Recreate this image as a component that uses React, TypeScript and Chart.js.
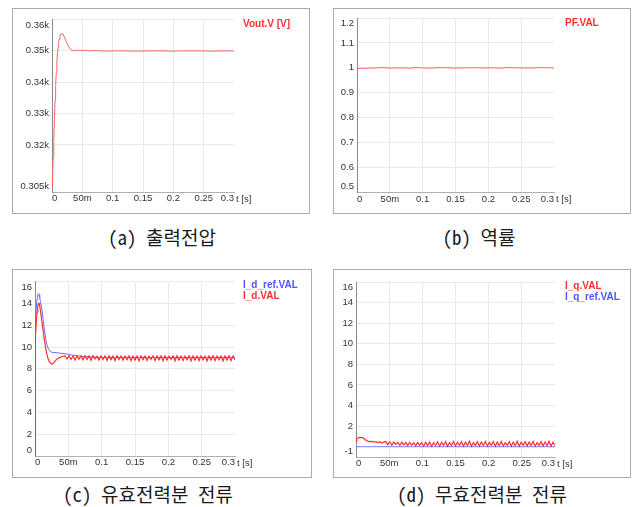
import React, { useEffect, useRef } from 'react';
import { Chart, registerables } from 'chart.js';

Chart.register(...registerables);

const FONT = '"Liberation Sans", Arial, Helvetica, sans-serif';

// ---------- shared time axis ----------
const timeTicks = [0, 0.05, 0.1, 0.15, 0.2, 0.25, 0.3];
const timeTickLabels = ['0', '50m', '0.1', '0.15', '0.2', '0.25', '0.3'];

// ---------- (a) output voltage ----------
const voutTime = [
  0, 0.001, 0.002, 0.003, 0.004, 0.005, 0.006, 0.007, 0.008, 0.009, 0.010,
  0.011, 0.012, 0.013, 0.014, 0.015, 0.016, 0.017, 0.018, 0.020, 0.022, 0.024,
  0.026, 0.028, 0.030, 0.033, 0.036, 0.040, 0.045, 0.050, 0.055, 0.060, 0.070,
  0.080, 0.090, 0.100, 0.120, 0.140, 0.160, 0.180, 0.200, 0.220, 0.240, 0.260,
  0.280, 0.300,
];
const voutValues = [
  306.5, 310, 316, 322, 328, 334, 339, 343, 346.5, 349, 351,
  352.6, 353.8, 354.6, 355.1, 355.4, 355.5, 355.4, 355.2, 354.6, 353.7, 352.7,
  351.8, 351.1, 350.6, 350.2, 350.0, 350.1, 350.2, 350.1, 350.2, 350.0, 350.1,
  350.0, 349.9, 350.0, 350.0, 349.9, 350.0, 350.0, 349.9, 350.0, 350.0, 349.9,
  350.0, 350.0,
];
const voutTicks = [305, 320, 330, 340, 350, 360];
const voutTickLabels = ['0.305k', '0.32k', '0.33k', '0.34k', '0.35k', '0.36k'];

// ---------- (b) power factor ----------
const pfTime = [
  0, 0.01, 0.02, 0.03, 0.04, 0.05, 0.06, 0.07, 0.08, 0.09, 0.10, 0.11, 0.12,
  0.13, 0.14, 0.15, 0.16, 0.17, 0.18, 0.19, 0.20, 0.21, 0.22, 0.23, 0.24, 0.25,
  0.26, 0.27, 0.28, 0.29, 0.30,
];
const pfValues = [
  0.998, 0.998, 0.999, 1.0, 1.001, 0.999, 1.0, 1.0, 0.999, 1.001, 1.0, 0.999,
  1.0, 1.001, 1.0, 0.999, 1.0, 1.0, 1.001, 0.999, 1.0, 1.0, 0.999, 1.001, 1.0,
  1.0, 0.999, 1.0, 1.001, 1.0, 1.0,
];
const pfTicks = [0.5, 0.6, 0.7, 0.8, 0.9, 1.0, 1.1, 1.2];
const pfTickLabels = ['0.5', '0.6', '0.7', '0.8', '0.9', '1', '1.1', '1.2'];

// ---------- ripple time base (c, d) ----------
const rippleTime = [
  0.045, 0.048, 0.051, 0.054, 0.057, 0.060, 0.063, 0.066, 0.069, 0.072,
  0.075, 0.078, 0.081, 0.084, 0.087, 0.090, 0.093, 0.096, 0.099, 0.102,
  0.105, 0.108, 0.111, 0.114, 0.117, 0.120, 0.123, 0.126, 0.129, 0.132,
  0.135, 0.138, 0.141, 0.144, 0.147, 0.150, 0.153, 0.156, 0.159, 0.162,
  0.165, 0.168, 0.171, 0.174, 0.177, 0.180, 0.183, 0.186, 0.189, 0.192,
  0.195, 0.198, 0.201, 0.204, 0.207, 0.210, 0.213, 0.216, 0.219, 0.222,
  0.225, 0.228, 0.231, 0.234, 0.237, 0.240, 0.243, 0.246, 0.249, 0.252,
  0.255, 0.258, 0.261, 0.264, 0.267, 0.270, 0.273, 0.276, 0.279, 0.282,
  0.285, 0.288, 0.291, 0.294, 0.297, 0.300,
];

// ---------- (c) active current ----------
const idRefTime = [
  0, 0.0005, 0.001, 0.002, 0.003, 0.004, 0.005, 0.006, 0.007, 0.008, 0.010,
  0.012, 0.014, 0.016, 0.018, 0.020, 0.022, 0.025, 0.030, 0.035, 0.040, 0.045,
  0.050, 0.055, 0.060, 0.065, 0.070, 0.080, 0.100, 0.150, 0.200, 0.250, 0.300,
];
const idRefValues = [
  9.8, 11.5, 12.6, 13.7, 14.4, 14.8, 14.9, 14.8, 14.6, 14.2, 13.6,
  12.6, 11.6, 10.8, 10.2, 9.85, 9.65, 9.52, 9.48, 9.46, 9.42, 9.38,
  9.33, 9.27, 9.22, 9.18, 9.15, 9.1, 9.05, 9.05, 9.05, 9.05, 9.05,
];
const idStartTime = [
  0, 0.0003, 0.001, 0.002, 0.003, 0.004, 0.005, 0.006, 0.007, 0.008, 0.010,
  0.012, 0.014, 0.016, 0.018, 0.020, 0.022, 0.024, 0.026, 0.028, 0.030, 0.033,
  0.036, 0.040, 0.042,
];
const idStartValues = [
  0, 9.6, 11.0, 12.3, 13.2, 13.7, 13.95, 14.0, 13.8, 13.4, 12.5,
  11.6, 10.7, 9.9, 9.3, 8.85, 8.6, 8.45, 8.45, 8.55, 8.7, 8.9,
  9.0, 9.1, 9.15,
];
const idRippleValues = [
  9.18, 8.9, 9.2, 8.85, 9.17, 8.8, 9.19, 8.88, 9.18, 8.82,
  9.2, 8.86, 9.17, 8.78, 9.19, 8.9, 9.16, 8.8, 9.18, 8.86,
  9.19, 8.76, 9.18, 8.84, 9.16, 8.74, 9.2, 8.86, 9.18, 8.78,
  9.17, 8.83, 9.19, 8.74, 9.16, 8.8, 9.18, 8.72, 9.19, 8.84,
  9.17, 8.76, 9.16, 8.86, 9.19, 8.74, 9.18, 8.82, 9.17, 8.72,
  9.19, 8.8, 9.16, 8.86, 9.18, 8.73, 9.19, 8.8, 9.17, 8.75,
  9.16, 8.84, 9.19, 8.72, 9.18, 8.8, 9.17, 8.75, 9.19, 8.82,
  9.16, 8.72, 9.18, 8.8, 9.19, 8.74, 9.17, 8.83, 9.16, 8.73,
  9.18, 8.8, 9.19, 8.74, 9.17, 8.8,
];
const currentTicks = [0, 2, 4, 6, 8, 10, 12, 14, 16];
const currentTickLabels = ['0', '2', '4', '6', '8', '10', '12', '14', '16'];

// ---------- (d) reactive current ----------
const iqStartTime = [
  0, 0.001, 0.003, 0.005, 0.007, 0.009, 0.011, 0.013, 0.015, 0.018, 0.021,
  0.024, 0.027, 0.030, 0.033, 0.036, 0.039, 0.042,
];
const iqStartValues = [
  0.55, 0.75, 0.85, 0.9, 0.88, 0.9, 0.85, 0.75, 0.6, 0.55, 0.5,
  0.52, 0.45, 0.5, 0.4, 0.48, 0.36, 0.45,
];
const iqRippleValues = [
  0.5, 0.2, 0.48, 0.15, 0.45, 0.22, 0.42, 0.12, 0.44, 0.18,
  0.4, 0.1, 0.42, 0.16, 0.38, 0.08, 0.42, 0.14, 0.4, 0.05,
  0.43, 0.1, 0.45, 0.04, 0.4, 0.12, 0.48, 0.05, 0.42, 0.14,
  0.5, 0.04, 0.4, 0.12, 0.52, 0.08, 0.43, 0.14, 0.5, 0.05,
  0.45, 0.12, 0.52, 0.04, 0.4, 0.14, 0.5, 0.06, 0.46, 0.12,
  0.52, 0.05, 0.42, 0.14, 0.5, 0.04, 0.45, 0.12, 0.52, 0.07,
  0.4, 0.14, 0.5, 0.05, 0.46, 0.12, 0.52, 0.04, 0.43, 0.14,
  0.5, 0.06, 0.45, 0.12, 0.52, 0.05, 0.4, 0.14, 0.5, 0.07,
  0.46, 0.1, 0.52, 0.05, 0.43, 0.12,
];
const iqRefTime = [0, 0.3];
const iqRefValues = [0, 0];
const iqTicks = [-1, 2, 4, 6, 8, 10, 12, 14, 16];
const iqTickLabels = ['-1', '2', '4', '6', '8', '10', '12', '14', '16'];

const RED = '#ff2e2e';
const LIGHT_RED = '#ff6464';
const BLUE = '#5252ff';

type Series = { label: string; color: string; lineColor: string; width: number; time: number[]; values: number[] };
type Panel = {
  box: { left: number; top: number; width: number; height: number };
  area: { left: number; top: number; right: number; bottom: number };
  yMin: number;
  yMax: number;
  yTicks: number[];
  yTickLabels: string[];
  series: Series[]; // first = drawn on top
  legend: Series[];
  legendDx: number;
  legendY: number;
  caption: string;
  captionX: number;
  captionY: number;
};

const voutSeries: Series = { label: 'Vout.V [V]', color: RED, lineColor: LIGHT_RED, width: 1, time: voutTime, values: voutValues };
const pfSeries: Series = { label: 'PF.VAL', color: RED, lineColor: LIGHT_RED, width: 1, time: pfTime, values: pfValues };
const idRefSeries: Series = { label: 'I_d_ref.VAL', color: BLUE, lineColor: '#6a6aff', width: 1, time: idRefTime, values: idRefValues };
const idSeries: Series = {
  label: 'I_d.VAL', color: RED, lineColor: RED, width: 1.2,
  time: [...idStartTime, ...rippleTime], values: [...idStartValues, ...idRippleValues],
};
const iqSeries: Series = {
  label: 'I_q.VAL', color: RED, lineColor: RED, width: 1.2,
  time: [...iqStartTime, ...rippleTime], values: [...iqStartValues, ...iqRippleValues],
};
const iqRefSeries: Series = { label: 'I_q_ref.VAL', color: BLUE, lineColor: '#7a7aff', width: 1, time: iqRefTime, values: iqRefValues };

const panels: Panel[] = [
  {
    box: { left: 12, top: 8, width: 298, height: 206 },
    area: { left: 39, top: 10.5, right: 221, bottom: 183 },
    yMin: 305, yMax: 360, yTicks: voutTicks, yTickLabels: voutTickLabels,
    series: [voutSeries], legend: [voutSeries], legendDx: 9, legendY: 15,
    caption: '(a) 출력전압', captionX: 162, captionY: 237,
  },
  {
    box: { left: 333, top: 8, width: 298, height: 206 },
    area: { left: 23, top: 9, right: 220, bottom: 183.5 },
    yMin: 0.5, yMax: 1.2, yTicks: pfTicks, yTickLabels: pfTickLabels,
    series: [pfSeries], legend: [pfSeries], legendDx: 11, legendY: 14,
    caption: '(b) 역률', captionX: 479, captionY: 237,
  },
  {
    box: { left: 12, top: 269, width: 300, height: 209 },
    area: { left: 22, top: 11.6, right: 222, bottom: 186 },
    yMin: 0, yMax: 16, yTicks: currentTicks, yTickLabels: currentTickLabels,
    series: [idSeries, idRefSeries], legend: [idRefSeries, idSeries], legendDx: 8, legendY: 15,
    caption: '(c) 유효전력분 전류', captionX: 148, captionY: 494,
  },
  {
    box: { left: 333, top: 269, width: 298, height: 209 },
    area: { left: 22, top: 12, right: 221, bottom: 187 },
    yMin: -1, yMax: 16, yTicks: iqTicks, yTickLabels: iqTickLabels,
    series: [iqSeries, iqRefSeries], legend: [iqSeries, iqRefSeries], legendDx: 10, legendY: 16,
    caption: '(d) 무효전력분 전류', captionX: 482, captionY: 494,
  },
];

function PanelChart({ p }: { p: Panel }) {
  const ref = useRef<HTMLCanvasElement | null>(null);
  const w = p.box.width - 2;
  const h = p.box.height - 2;

  useEffect(() => {
    const canvas = ref.current;
    if (!canvas) return;
    const textPlugin = {
      id: 'panelText',
      afterDraw(chart: any) {
        const { ctx, chartArea } = chart;
        ctx.save();
        ctx.textBaseline = 'middle';
        ctx.textAlign = 'left';
        ctx.font = `bold 10px ${FONT}`;
        p.legend.forEach((s, i) => {
          ctx.fillStyle = s.color;
          ctx.fillText(s.label, chartArea.right + p.legendDx, p.legendY + i * 11);
        });
        ctx.font = `9.5px ${FONT}`;
        ctx.fillStyle = '#333';
        ctx.fillText('t [s]', chartArea.right + 2, chartArea.bottom + 7);
        ctx.restore();
      },
    };

    const chart = new Chart(canvas, {
      type: 'line',
      data: {
        datasets: p.series.map((s) => ({
          label: s.label,
          data: s.time.map((t, i) => ({ x: t, y: s.values[i] })),
          borderColor: s.lineColor,
          backgroundColor: s.lineColor,
          borderWidth: s.width,
          pointRadius: 0,
          tension: 0,
          fill: false,
        })),
      },
      options: {
        responsive: false,
        animation: false,
        events: [],
        layout: { padding: { left: 0, top: p.area.top, right: w - p.area.right, bottom: 0 } },
        plugins: { legend: { display: false }, tooltip: { enabled: false } },
        scales: {
          x: {
            type: 'linear',
            min: 0,
            max: 0.3,
            afterBuildTicks: (s: any) => {
              s.ticks = timeTicks.map((v) => ({ value: v }));
            },
            afterFit: (s: any) => {
              s.height = h - p.area.bottom;
              s.paddingLeft = 0;
              s.paddingRight = 0;
            },
            ticks: {
              autoSkip: false,
              maxRotation: 0,
              align: 'inner',
              padding: 1,
              color: '#333',
              font: { family: FONT, size: 9.5 },
              callback: (_v: any, i: number) => timeTickLabels[i],
            },
            grid: {
              drawTicks: false,
              color: (c: any) => (c.tick && c.tick.value >= 0.3 ? 'rgba(0,0,0,0)' : '#e9e9e9'),
            },
            border: { color: '#b0b0b0' },
          },
          y: {
            type: 'linear',
            min: p.yMin,
            max: p.yMax,
            afterBuildTicks: (s: any) => {
              s.ticks = p.yTicks.map((v) => ({ value: v }));
            },
            afterFit: (s: any) => {
              s.width = p.area.left;
              s.paddingTop = 0;
              s.paddingBottom = 0;
            },
            ticks: {
              autoSkip: false,
              padding: 3,
              color: '#333',
              font: { family: FONT, size: 9.5 },
              callback: (_v: any, i: number) => {
                const lab = p.yTickLabels[i];
                if (i === 0) return [lab, ''];
                if (i === p.yTickLabels.length - 1) return ['', lab];
                return lab;
              },
            },
            grid: { drawTicks: false, color: '#e9e9e9' },
            border: { color: '#8a8a8a' },
          },
        },
      },
      plugins: [textPlugin],
    } as any);
    return () => chart.destroy();
  }, []);

  return (
    <>
      <div
        style={{
          position: 'absolute',
          left: p.box.left,
          top: p.box.top,
          width: p.box.width - 2,
          height: p.box.height - 2,
          border: '1px solid #ababab',
          background: '#fff',
        }}
      >
        <canvas ref={ref} width={w} height={h} style={{ display: 'block', width: w, height: h }} />
      </div>
      <div
        style={{
          position: 'absolute',
          left: p.captionX - 150,
          width: 300,
          top: p.captionY - 13,
          height: 26,
          lineHeight: '26px',
          textAlign: 'center',
          fontFamily: '"Noto Sans Mono CJK KR", "Noto Sans CJK KR", sans-serif',
          fontSize: 19,
          color: '#1a1a1a',
          whiteSpace: 'pre',
        }}
      >
        {p.caption}
      </div>
    </>
  );
}

export default function App() {
  return (
    <div style={{ position: 'absolute', left: 0, top: 0, width: 636, height: 507, background: '#fff', overflow: 'hidden' }}>
      {panels.map((p, i) => (
        <PanelChart key={i} p={p} />
      ))}
    </div>
  );
}
